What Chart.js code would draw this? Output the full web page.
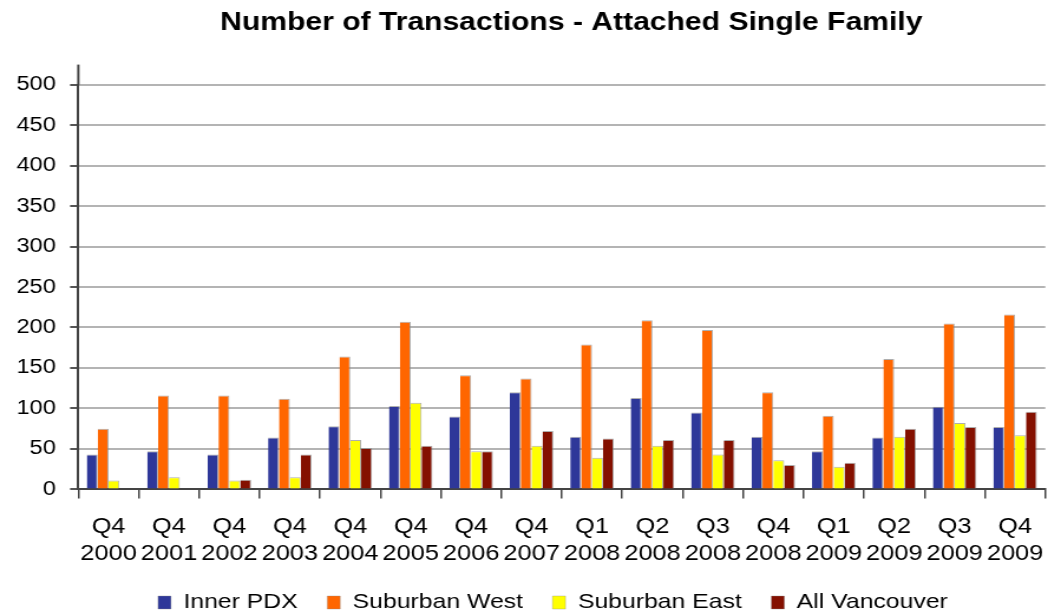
<!DOCTYPE html>
<html>
<head>
<meta charset="utf-8">
<script src="https://cdn.jsdelivr.net/npm/chart.js@4"></script>
<style>
  html, body { margin: 0; padding: 0; background: #fff; overflow: hidden; }
  /* the chart is laid out narrower and widened on screen */
  #wrap { width: 899px; height: 623px; transform: scaleX(1.1802); transform-origin: 0 0; }
</style>
</head>
<body>
<div id="wrap"><canvas id="grafico1"></canvas></div>
<script>
const periodos = [
  ["Q4", "2000"], ["Q4", "2001"], ["Q4", "2002"], ["Q4", "2003"],
  ["Q4", "2004"], ["Q4", "2005"], ["Q4", "2006"], ["Q4", "2007"],
  ["Q1", "2008"], ["Q2", "2008"], ["Q3", "2008"], ["Q4", "2008"],
  ["Q1", "2009"], ["Q2", "2009"], ["Q3", "2009"], ["Q4", "2009"]
];
const innerPdx      = [43, 47, 43, 64, 78, 103, 90, 120, 65, 113, 95, 65, 47, 64, 102, 77];
const suburbanWest  = [75, 116, 116, 112, 164, 207, 141, 137, 179, 209, 197, 120, 91, 161, 205, 216];
const suburbanEast  = [11, 15, 11, 15, 61, 107, 47, 54, 39, 54, 43, 36, 28, 65, 82, 67];
const allVancouver  = [0, 0, 12, 43, 51, 54, 47, 72, 63, 61, 61, 30, 33, 75, 77, 96];
const yTicks = [0, 50, 100, 150, 200, 250, 300, 350, 400, 450, 500];

const serie = (label, data, color) => ({
  label: label,
  data: data,
  backgroundColor: color,
  borderColor: "rgba(140,140,140,0.7)",
  borderWidth: { top: 1, right: 1, left: 0, bottom: 0 },
  borderSkipped: "bottom",
});

const fuente = "'Liberation Sans', Arial, sans-serif";

// vertical axis line runs a little past the top gridline
const ejeArriba = {
  id: "ejeArriba",
  afterDraw(chart) {
    const y = chart.scales.y;
    const c = chart.ctx;
    c.save();
    c.strokeStyle = "#444";
    c.lineWidth = 2;
    c.beginPath();
    c.moveTo(y.right, y.top);
    c.lineTo(y.right, y.top - 20);
    c.stroke();
    c.restore();
  },
};

// title centred over the plot, legend nudged right
const centrado = {
  id: "centrado",
  afterLayout(chart) {
    const area = chart.chartArea;
    const t = chart.titleBlock;
    const dx = (area.left + area.right) / 2 - (t.left + t.right) / 2 + 8;
    t.left += dx;
    t.right += dx;
    chart.legend.left += 18;
    chart.legend.right += 18;
  },
};

const ctx = document.getElementById("grafico1").getContext("2d");
new Chart(ctx, {
  type: "bar",
  data: {
    labels: periodos,
    datasets: [
      serie("Inner PDX", innerPdx, "#2E3799"),
      serie("Suburban West", suburbanWest, "#FF6600"),
      serie("Suburban East", suburbanEast, "#FFFF00"),
      serie("All Vancouver", allVancouver, "#841000"),
    ],
  },
  plugins: [ejeArriba, centrado],
  options: {
    responsive: true,
    maintainAspectRatio: false,
    animation: false,
    layout: { padding: { left: 2, right: 0, top: 6, bottom: 0 } },
    datasets: { bar: { categoryPercentage: 0.72, barPercentage: 1.0 } },
    plugins: {
      title: {
        display: true,
        text: "Number of Transactions - Attached Single Family",
        color: "#000",
        font: { family: fuente, size: 25.5, weight: "bold" },
        padding: { top: 2, bottom: 46 },
      },
      legend: {
        position: "bottom",
        labels: {
          color: "#000",
          font: { family: fuente, size: 21 },
          boxWidth: 11,
          boxHeight: 13,
          padding: 25,
          useBorderRadius: false,
        },
      },
      tooltip: { enabled: false },
    },
    scales: {
      x: {
        afterFit: (s) => { s.height -= 16; },
        grid: {
          display: true,
          drawOnChartArea: false,
          offset: true,
          tickLength: 9,
          tickColor: "#444",
          lineWidth: 1.5,
        },
        border: { color: "#444", width: 2 },
        ticks: {
          color: "#000",
          font: { family: fuente, size: 21.5, lineHeight: 1.27 },
          maxRotation: 0,
          autoSkip: false,
          padding: 15,
        },
      },
      y: {
        min: 0,
        max: 500,
        afterBuildTicks: (axis) => { axis.ticks = yTicks.map((v) => ({ value: v })); },
        grid: {
          color: "#B4B4B4",
          lineWidth: 2,
          tickLength: 7,
          tickColor: "#555",
        },
        border: { color: "#444", width: 2 },
        ticks: {
          color: "#000",
          font: { family: fuente, size: 20 },
          padding: 12,
        },
      },
    },
  },
});
</script>
</body>
</html>
